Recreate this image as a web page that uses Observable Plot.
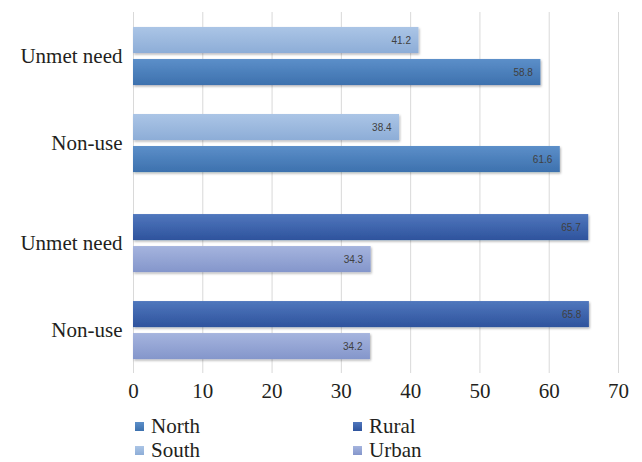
<!DOCTYPE html>
<html>
<head>
<meta charset="utf-8">
<script src="https://cdn.jsdelivr.net/npm/d3@7"></script>
<script src="https://cdn.jsdelivr.net/npm/@observablehq/plot@0.6"></script>
<style>
  html, body { margin: 0; padding: 0; background: #fff; }
  #wrap { position: relative; width: 642px; height: 462px; overflow: hidden; }
  #wrap svg { display: block; }
  .legend { position: absolute; left: 135px; top: 415px; display: grid;
    grid-template-columns: 218px auto; font-family: "Liberation Serif", "Times New Roman", Times, "DejaVu Serif", serif;
    font-size: 21px; color: #231f20; }
  .legend .item { display: flex; align-items: center; height: 23.5px; }
  .legend .sw { width: 9px; height: 9px; margin-right: 7px; flex: none; }
</style>
</head>
<body>
<div id="wrap"></div>
<script>
// ---- data ----
const categories = ["Unmet need", "Non-use"];
const northValues = [58.8, 61.6];
const southValues = [41.2, 38.4];
const ruralValues = [65.7, 65.8];
const urbanValues = [34.3, 34.2];
const xTicks = [0, 10, 20, 30, 40, 50, 60, 70];
const legendItems = ["North", "Rural", "South", "Urban"];

const SERIF = "'Liberation Serif', 'Times New Roman', Times, 'DejaVu Serif', serif";

const gradients = {
  North: ["#5c8fc9", "#3d71ae"],
  South: ["#abc5e6", "#8dadd7"],
  Rural: ["#5077bd", "#2e539d"],
  Urban: ["#a5b4de", "#8496cb"]
};

function rows(values, series) {
  return categories.map((c, i) => ({category: c, value: values[i], series}));
}

function addDefs(svg) {
  const defs = d3.select(svg).insert("defs", ":first-child");
  for (const [k, [c0, c1]] of Object.entries(gradients)) {
    const g = defs.append("linearGradient").attr("id", "g" + k)
      .attr("x1", 0).attr("y1", 0).attr("x2", 0).attr("y2", 1);
    g.append("stop").attr("offset", "0%").attr("stop-color", c0);
    g.append("stop").attr("offset", "100%").attr("stop-color", c1);
  }
  const f = defs.append("filter").attr("id", "shadow")
    .attr("x", "-5%").attr("y", "-20%").attr("width", "110%").attr("height", "150%");
  f.append("feDropShadow").attr("dx", 1).attr("dy", 1.5).attr("stdDeviation", 1)
    .attr("flood-color", "#000").attr("flood-opacity", 0.3);
  d3.select(svg).selectAll("g[aria-label=bar] rect").attr("filter", "url(#shadow)");
  d3.select(svg).selectAll("g[aria-label^='y-axis'] text, g[aria-label^='x-axis'] text")
    .attr("font-family", SERIF);
}

function panel(topSeries, topVals, botSeries, botVals, opts) {
  const topData = rows(topVals, topSeries);
  const botData = rows(botVals, botSeries);
  const marks = [
    Plot.ruleX(xTicks, {stroke: "#d9d9d9", strokeWidth: 1}),
    Plot.barX(topData, {x: "value", y: "category", fill: `url(#g${topSeries})`, insetBottom: 32}),
    Plot.barX(botData, {x: "value", y: "category", fill: `url(#g${botSeries})`, insetTop: 32}),
    Plot.text(topData, {x: "value", y: "category", text: d => d.value.toFixed(1), textAnchor: "end",
      dx: -8, dy: -16, fontSize: 10, fill: "#404040", fontFamily: "Liberation Sans, Arial, sans-serif"}),
    Plot.text(botData, {x: "value", y: "category", text: d => d.value.toFixed(1), textAnchor: "end",
      dx: -8, dy: 16, fontSize: 10, fill: "#404040", fontFamily: "Liberation Sans, Arial, sans-serif"}),
    Plot.axisY({tickSize: 0, tickPadding: 11, label: null, fill: "#231f20", fontFamily: SERIF})
  ];
  if (opts.xAxis) {
    marks.push(Plot.axisX({ticks: xTicks, tickSize: 0, tickPadding: 10, label: null, fill: "#231f20", fontFamily: SERIF}));
  }
  const svg = Plot.plot({
    width: 642,
    height: opts.height,
    marginLeft: 133,
    marginRight: 24,
    marginTop: opts.marginTop,
    marginBottom: opts.marginBottom,
    style: {fontFamily: SERIF, fontSize: "21px", color: "#231f20", background: "#fff"},
    x: {domain: [0, 70], axis: null},
    y: {domain: categories, axis: null, paddingInner: 0.333, paddingOuter: opts.po, align: opts.align, round: false},
    marks
  });
  addDefs(svg);
  return svg;
}

const wrap = document.getElementById("wrap");
wrap.appendChild(panel("South", southValues, "North", northValues,
  {height: 187, marginTop: 12, marginBottom: 0, po: 0.172, align: 0.5, xAxis: false}));
wrap.appendChild(panel("Rural", ruralValues, "Urban", urbanValues,
  {height: 222, marginTop: 0, marginBottom: 36, po: 0.2356, align: 0.66, xAxis: true}));

const legend = document.createElement("div");
legend.className = "legend";
for (const s of legendItems) {
  const it = document.createElement("div");
  it.className = "item";
  const sw = document.createElement("span");
  sw.className = "sw";
  sw.style.background = `linear-gradient(${gradients[s][0]}, ${gradients[s][1]})`;
  const t = document.createElement("span");
  t.textContent = s;
  it.appendChild(sw); it.appendChild(t);
  legend.appendChild(it);
}
wrap.appendChild(legend);
</script>
</body>
</html>
